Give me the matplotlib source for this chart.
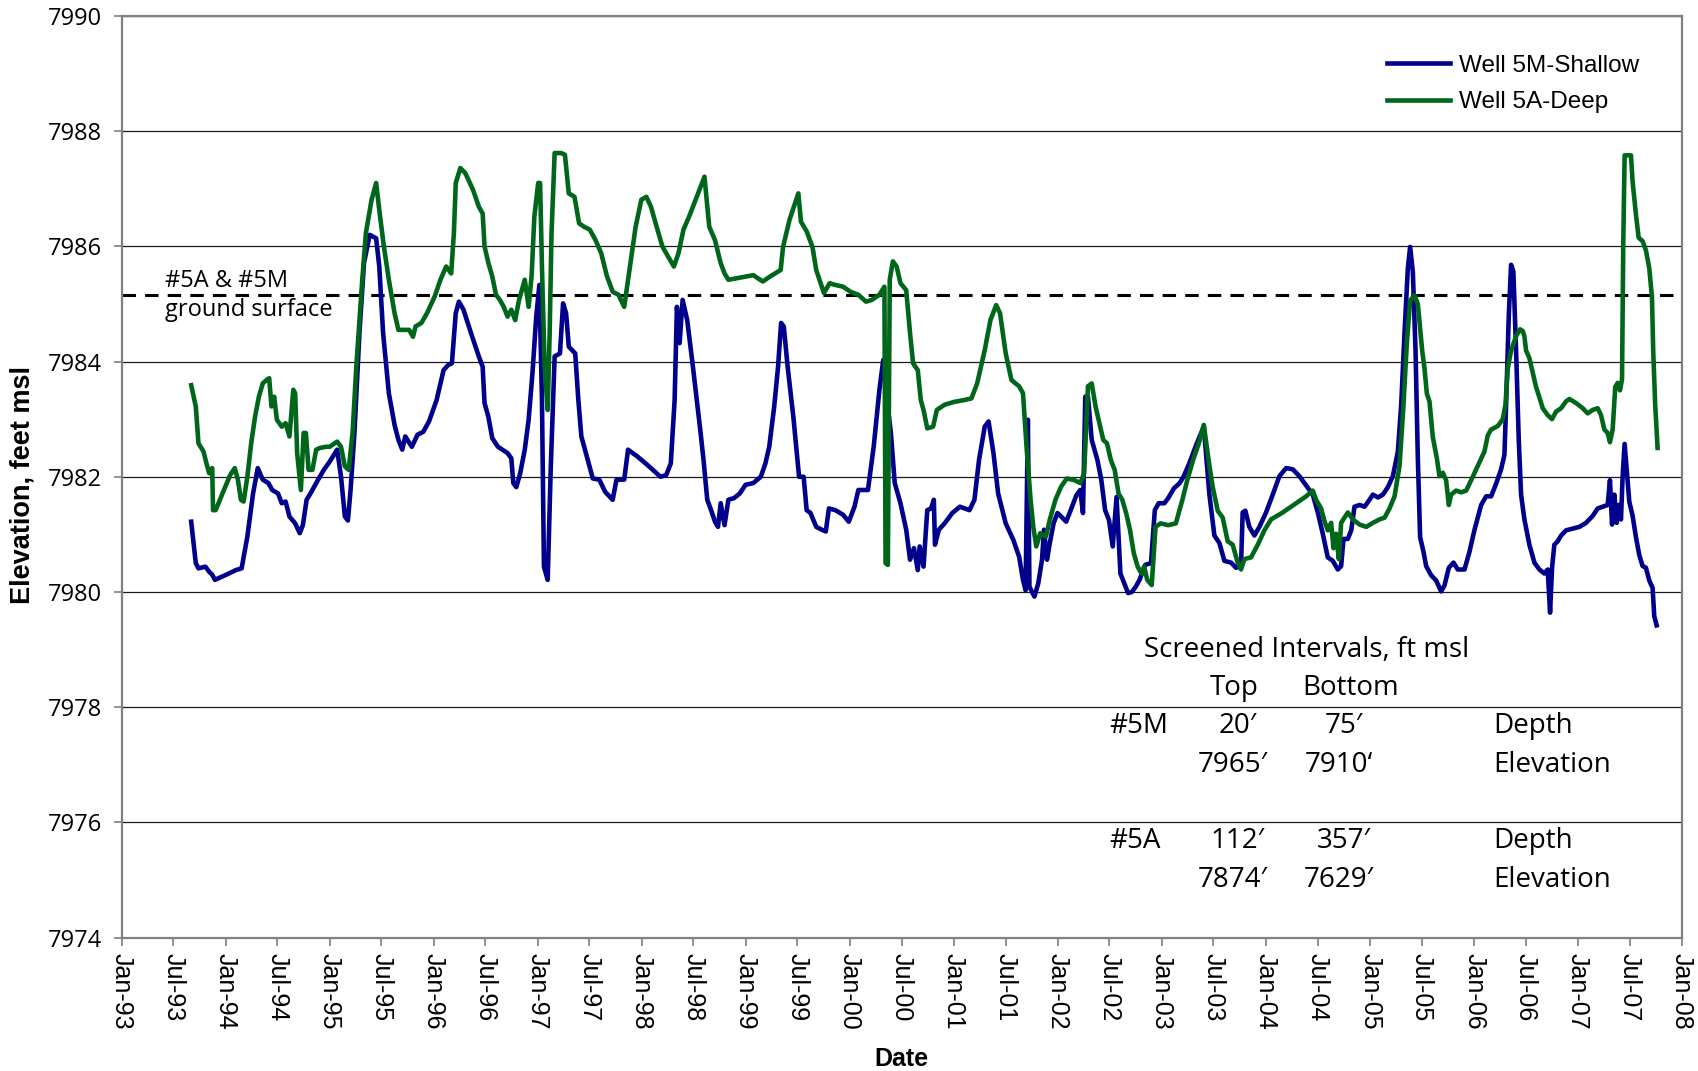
"""
Water-level hydrograph for the shallow and deep monitoring wells.
"""

import matplotlib

matplotlib.use("Agg")
import matplotlib.dates as mdates
import matplotlib.pyplot as plt
import numpy as np

# (decimal year, elevation in ft msl)
shallow_readings = [
    (1993.669, 7981.22), (1993.713, 7980.50), (1993.739, 7980.41), (1993.805, 7980.44),
    (1993.842, 7980.35), (1993.871, 7980.30), (1993.897, 7980.21), (1994.007, 7980.30),
    (1994.099, 7980.38), (1994.154, 7980.41), (1994.209, 7980.96), (1994.264, 7981.71),
    (1994.309, 7982.15), (1994.357, 7981.95), (1994.412, 7981.89), (1994.448, 7981.77),
    (1994.504, 7981.71), (1994.540, 7981.54), (1994.577, 7981.57), (1994.614, 7981.31),
    (1994.669, 7981.19), (1994.713, 7981.02), (1994.743, 7981.16), (1994.779, 7981.60),
    (1994.816, 7981.71), (1994.853, 7981.83), (1994.890, 7981.95), (1994.945, 7982.12),
    (1995.000, 7982.26), (1995.073, 7982.47), (1995.110, 7982.00), (1995.147, 7981.31),
    (1995.176, 7981.24), (1995.202, 7981.77), (1995.239, 7982.76), (1995.287, 7984.49),
    (1995.331, 7985.71), (1995.386, 7986.20), (1995.448, 7986.14), (1995.478, 7985.65),
    (1995.515, 7984.49), (1995.570, 7983.45), (1995.625, 7982.90), (1995.662, 7982.64),
    (1995.699, 7982.47), (1995.728, 7982.70), (1995.791, 7982.52), (1995.846, 7982.73),
    (1995.901, 7982.78), (1995.956, 7982.96), (1996.029, 7983.33), (1996.096, 7983.85),
    (1996.140, 7983.94), (1996.176, 7983.97), (1996.213, 7984.84), (1996.243, 7985.04),
    (1996.287, 7984.90), (1996.360, 7984.49), (1996.434, 7984.09), (1996.471, 7983.91),
    (1996.489, 7983.28), (1996.526, 7983.04), (1996.563, 7982.67), (1996.618, 7982.52),
    (1996.710, 7982.41), (1996.746, 7982.32), (1996.765, 7981.89), (1996.794, 7981.82),
    (1996.831, 7982.06), (1996.875, 7982.47), (1996.912, 7982.99), (1996.949, 7983.80),
    (1996.985, 7984.78), (1997.015, 7985.33), (1997.040, 7983.33), (1997.059, 7980.44),
    (1997.095, 7980.21), (1997.125, 7982.18), (1997.162, 7984.09), (1997.213, 7984.14),
    (1997.243, 7985.01), (1997.272, 7984.84), (1997.298, 7984.26), (1997.360, 7984.14),
    (1997.390, 7983.33), (1997.419, 7982.70), (1997.463, 7982.41), (1997.529, 7981.97),
    (1997.592, 7981.95), (1997.647, 7981.74), (1997.720, 7981.60), (1997.757, 7981.95),
    (1997.831, 7981.95), (1997.868, 7982.47), (1997.959, 7982.35), (1998.051, 7982.21),
    (1998.180, 7982.00), (1998.235, 7982.03), (1998.279, 7982.23), (1998.316, 7983.33),
    (1998.338, 7984.95), (1998.364, 7984.32), (1998.393, 7985.07), (1998.437, 7984.72),
    (1998.492, 7983.91), (1998.566, 7982.76), (1998.594, 7982.29), (1998.630, 7981.60),
    (1998.667, 7981.42), (1998.704, 7981.22), (1998.733, 7981.13), (1998.759, 7981.54),
    (1998.796, 7981.16), (1998.833, 7981.60), (1998.888, 7981.63), (1998.943, 7981.71),
    (1998.998, 7981.86), (1999.072, 7981.89), (1999.145, 7982.00), (1999.189, 7982.23),
    (1999.226, 7982.52), (1999.274, 7983.22), (1999.311, 7983.91), (1999.340, 7984.67),
    (1999.366, 7984.61), (1999.403, 7983.91), (1999.458, 7983.04), (1999.513, 7982.00),
    (1999.557, 7982.00), (1999.586, 7981.42), (1999.623, 7981.37), (1999.678, 7981.13),
    (1999.733, 7981.08), (1999.770, 7981.05), (1999.800, 7981.45), (1999.862, 7981.42),
    (1999.936, 7981.34), (1999.991, 7981.22), (2000.046, 7981.48), (2000.083, 7981.77),
    (2000.175, 7981.77), (2000.230, 7982.52), (2000.285, 7983.51), (2000.322, 7984.03),
    (2000.358, 7983.33), (2000.395, 7982.76), (2000.432, 7981.89), (2000.487, 7981.54),
    (2000.542, 7981.08), (2000.579, 7980.56), (2000.616, 7980.76), (2000.653, 7980.38),
    (2000.671, 7980.79), (2000.708, 7980.44), (2000.744, 7981.42), (2000.781, 7981.45),
    (2000.807, 7981.60), (2000.818, 7980.82), (2000.855, 7981.08), (2000.910, 7981.19),
    (2000.984, 7981.37), (2001.057, 7981.48), (2001.149, 7981.42), (2001.197, 7981.60),
    (2001.241, 7982.29), (2001.296, 7982.87), (2001.333, 7982.96), (2001.380, 7982.41),
    (2001.425, 7981.71), (2001.498, 7981.19), (2001.572, 7980.90), (2001.627, 7980.61),
    (2001.664, 7980.21), (2001.689, 7980.03), (2001.711, 7982.99), (2001.726, 7980.09),
    (2001.774, 7979.92), (2001.811, 7980.15), (2001.847, 7980.56), (2001.866, 7981.08),
    (2001.895, 7980.56), (2001.921, 7980.84), (2001.958, 7981.19), (2001.995, 7981.37),
    (2002.031, 7981.31), (2002.079, 7981.22), (2002.123, 7981.42), (2002.178, 7981.68),
    (2002.215, 7981.77), (2002.241, 7981.37), (2002.263, 7983.39), (2002.289, 7983.39),
    (2002.325, 7982.64), (2002.380, 7982.29), (2002.417, 7981.95), (2002.454, 7981.42),
    (2002.491, 7981.25), (2002.527, 7980.79), (2002.564, 7981.65), (2002.583, 7980.96),
    (2002.601, 7980.32), (2002.638, 7980.15), (2002.675, 7979.98), (2002.711, 7980.00),
    (2002.748, 7980.09), (2002.785, 7980.21), (2002.840, 7980.47), (2002.895, 7980.50),
    (2002.932, 7981.42), (2002.969, 7981.54), (2003.024, 7981.54), (2003.061, 7981.63),
    (2003.116, 7981.80), (2003.171, 7981.89), (2003.208, 7982.00), (2003.263, 7982.23),
    (2003.336, 7982.58), (2003.403, 7982.87), (2003.457, 7981.69), (2003.505, 7980.98),
    (2003.553, 7980.85), (2003.601, 7980.54), (2003.665, 7980.51), (2003.713, 7980.42),
    (2003.761, 7980.45), (2003.777, 7981.38), (2003.803, 7981.41), (2003.841, 7981.13),
    (2003.890, 7980.98), (2003.938, 7981.13), (2004.002, 7981.38), (2004.066, 7981.69),
    (2004.130, 7982.01), (2004.194, 7982.15), (2004.258, 7982.13), (2004.322, 7982.01),
    (2004.386, 7981.85), (2004.450, 7981.69), (2004.498, 7981.38), (2004.546, 7981.01),
    (2004.594, 7980.60), (2004.642, 7980.54), (2004.690, 7980.39), (2004.722, 7980.45),
    (2004.745, 7980.92), (2004.786, 7980.92), (2004.819, 7981.07), (2004.850, 7981.48),
    (2004.899, 7981.51), (2004.947, 7981.48), (2004.994, 7981.60), (2005.027, 7981.69),
    (2005.075, 7981.64), (2005.123, 7981.69), (2005.171, 7981.82), (2005.219, 7982.01),
    (2005.267, 7982.44), (2005.299, 7983.25), (2005.331, 7984.50), (2005.363, 7985.62),
    (2005.385, 7985.99), (2005.411, 7985.56), (2005.437, 7984.19), (2005.459, 7982.32),
    (2005.481, 7980.95), (2005.513, 7980.70), (2005.539, 7980.45), (2005.587, 7980.29),
    (2005.635, 7980.20), (2005.683, 7980.01), (2005.715, 7980.11), (2005.757, 7980.42),
    (2005.802, 7980.51), (2005.843, 7980.39), (2005.908, 7980.39), (2005.956, 7980.70),
    (2006.003, 7981.07), (2006.068, 7981.51), (2006.116, 7981.66), (2006.164, 7981.66),
    (2006.212, 7981.88), (2006.260, 7982.13), (2006.292, 7982.38), (2006.308, 7983.25),
    (2006.334, 7984.81), (2006.356, 7985.68), (2006.378, 7985.56), (2006.404, 7984.19),
    (2006.430, 7982.63), (2006.452, 7981.69), (2006.484, 7981.26), (2006.532, 7980.82),
    (2006.580, 7980.51), (2006.628, 7980.39), (2006.676, 7980.32), (2006.708, 7980.39),
    (2006.731, 7979.64), (2006.750, 7980.42), (2006.772, 7980.82), (2006.804, 7980.88),
    (2006.837, 7980.98), (2006.885, 7981.07), (2006.949, 7981.10), (2007.013, 7981.13),
    (2007.077, 7981.20), (2007.141, 7981.32), (2007.189, 7981.45), (2007.237, 7981.48),
    (2007.285, 7981.51), (2007.307, 7981.94), (2007.327, 7981.17), (2007.349, 7981.69),
    (2007.372, 7981.20), (2007.391, 7981.51), (2007.413, 7981.26), (2007.429, 7982.01),
    (2007.448, 7982.57), (2007.468, 7982.13), (2007.493, 7981.57), (2007.525, 7981.32),
    (2007.557, 7980.95), (2007.589, 7980.64), (2007.621, 7980.45), (2007.653, 7980.42),
    (2007.685, 7980.20), (2007.717, 7980.07), (2007.733, 7979.58), (2007.756, 7979.42),
]

deep_readings = [
    (1993.669, 7983.59), (1993.713, 7983.22), (1993.739, 7982.58), (1993.787, 7982.44),
    (1993.816, 7982.23), (1993.842, 7982.06), (1993.871, 7982.15), (1993.879, 7981.42),
    (1993.904, 7981.42), (1993.970, 7981.71), (1994.044, 7982.03), (1994.088, 7982.15),
    (1994.118, 7981.95), (1994.147, 7981.60), (1994.173, 7981.57), (1994.209, 7982.00),
    (1994.246, 7982.58), (1994.283, 7983.04), (1994.320, 7983.39), (1994.357, 7983.62),
    (1994.393, 7983.68), (1994.419, 7983.71), (1994.441, 7983.22), (1994.467, 7983.39),
    (1994.493, 7982.99), (1994.540, 7982.87), (1994.577, 7982.93), (1994.614, 7982.70),
    (1994.651, 7983.51), (1994.669, 7983.45), (1994.688, 7982.41), (1994.724, 7981.77),
    (1994.750, 7982.76), (1994.772, 7982.76), (1994.798, 7982.12), (1994.835, 7982.12),
    (1994.871, 7982.47), (1994.908, 7982.50), (1994.963, 7982.52), (1995.000, 7982.52),
    (1995.073, 7982.61), (1995.110, 7982.52), (1995.147, 7982.18), (1995.184, 7982.12),
    (1995.221, 7982.76), (1995.257, 7983.91), (1995.312, 7985.36), (1995.349, 7986.23),
    (1995.404, 7986.81), (1995.448, 7987.10), (1995.478, 7986.63), (1995.522, 7986.00),
    (1995.570, 7985.42), (1995.625, 7984.84), (1995.662, 7984.55), (1995.717, 7984.55),
    (1995.765, 7984.55), (1995.802, 7984.43), (1995.827, 7984.61), (1995.883, 7984.67),
    (1995.937, 7984.84), (1996.011, 7985.13), (1996.066, 7985.42), (1996.121, 7985.65),
    (1996.169, 7985.53), (1996.195, 7986.23), (1996.213, 7987.10), (1996.257, 7987.36),
    (1996.305, 7987.27), (1996.379, 7986.98), (1996.434, 7986.69), (1996.471, 7986.57),
    (1996.489, 7986.00), (1996.526, 7985.71), (1996.563, 7985.48), (1996.599, 7985.16),
    (1996.636, 7985.07), (1996.673, 7984.95), (1996.710, 7984.78), (1996.746, 7984.90),
    (1996.783, 7984.72), (1996.820, 7985.07), (1996.875, 7985.42), (1996.912, 7984.95),
    (1996.941, 7985.50), (1996.967, 7986.52), (1997.004, 7987.10), (1997.022, 7987.10),
    (1997.040, 7985.65), (1997.066, 7983.91), (1997.095, 7983.16), (1997.114, 7984.49),
    (1997.132, 7986.23), (1997.162, 7987.62), (1997.224, 7987.62), (1997.261, 7987.59),
    (1997.298, 7986.92), (1997.353, 7986.86), (1997.397, 7986.40), (1997.445, 7986.34),
    (1997.500, 7986.29), (1997.555, 7986.11), (1997.610, 7985.88), (1997.665, 7985.48),
    (1997.721, 7985.21), (1997.776, 7985.16), (1997.831, 7984.95), (1997.886, 7985.65),
    (1997.941, 7986.34), (1997.996, 7986.81), (1998.044, 7986.86), (1998.088, 7986.69),
    (1998.143, 7986.34), (1998.198, 7986.00), (1998.254, 7985.82), (1998.309, 7985.65),
    (1998.353, 7985.88), (1998.401, 7986.29), (1998.456, 7986.52), (1998.529, 7986.86),
    (1998.603, 7987.21), (1998.649, 7986.34), (1998.704, 7986.11), (1998.759, 7985.71),
    (1998.796, 7985.53), (1998.833, 7985.42), (1998.925, 7985.45), (1999.072, 7985.50),
    (1999.164, 7985.39), (1999.237, 7985.48), (1999.336, 7985.59), (1999.359, 7985.99),
    (1999.421, 7986.46), (1999.506, 7986.92), (1999.531, 7986.43), (1999.586, 7986.26),
    (1999.642, 7985.99), (1999.678, 7985.59), (1999.715, 7985.39), (1999.752, 7985.19),
    (1999.807, 7985.36), (1999.862, 7985.33), (1999.936, 7985.30), (2000.009, 7985.21),
    (2000.083, 7985.16), (2000.156, 7985.04), (2000.211, 7985.07), (2000.285, 7985.16),
    (2000.333, 7985.30), (2000.344, 7980.50), (2000.366, 7980.47), (2000.384, 7985.42),
    (2000.414, 7985.74), (2000.450, 7985.65), (2000.487, 7985.36), (2000.542, 7985.24),
    (2000.579, 7984.49), (2000.608, 7983.97), (2000.653, 7983.85), (2000.682, 7983.33),
    (2000.708, 7983.16), (2000.744, 7982.84), (2000.800, 7982.87), (2000.836, 7983.16),
    (2000.910, 7983.25), (2001.002, 7983.30), (2001.094, 7983.33), (2001.168, 7983.36),
    (2001.223, 7983.62), (2001.296, 7984.20), (2001.351, 7984.72), (2001.406, 7984.98),
    (2001.443, 7984.84), (2001.498, 7984.14), (2001.553, 7983.68), (2001.627, 7983.57),
    (2001.664, 7983.45), (2001.700, 7982.47), (2001.737, 7981.60), (2001.763, 7981.13),
    (2001.792, 7980.79), (2001.829, 7981.02), (2001.884, 7980.96), (2001.921, 7981.25),
    (2001.976, 7981.60), (2002.031, 7981.83), (2002.086, 7981.97), (2002.160, 7981.94),
    (2002.215, 7981.89), (2002.252, 7982.06), (2002.289, 7983.57), (2002.325, 7983.62),
    (2002.362, 7983.22), (2002.399, 7982.93), (2002.436, 7982.64), (2002.472, 7982.58),
    (2002.509, 7982.29), (2002.546, 7982.12), (2002.583, 7981.71), (2002.619, 7981.60),
    (2002.656, 7981.37), (2002.693, 7981.08), (2002.730, 7980.67), (2002.767, 7980.44),
    (2002.803, 7980.32), (2002.829, 7980.44), (2002.859, 7980.21), (2002.902, 7980.12),
    (2002.939, 7981.13), (2002.987, 7981.19), (2003.061, 7981.16), (2003.134, 7981.19),
    (2003.197, 7981.60), (2003.244, 7981.94), (2003.300, 7982.29), (2003.355, 7982.58),
    (2003.403, 7982.90), (2003.457, 7982.19), (2003.489, 7981.82), (2003.537, 7981.41),
    (2003.585, 7981.29), (2003.633, 7980.88), (2003.681, 7980.82), (2003.729, 7980.51),
    (2003.761, 7980.39), (2003.793, 7980.57), (2003.857, 7980.60), (2003.922, 7980.82),
    (2003.986, 7981.07), (2004.050, 7981.26), (2004.162, 7981.38), (2004.290, 7981.54),
    (2004.386, 7981.66), (2004.450, 7981.76), (2004.482, 7981.60), (2004.530, 7981.45),
    (2004.562, 7981.23), (2004.594, 7981.07), (2004.626, 7981.20), (2004.649, 7980.76),
    (2004.674, 7981.01), (2004.700, 7980.57), (2004.722, 7981.20), (2004.754, 7981.29),
    (2004.786, 7981.38), (2004.834, 7981.26), (2004.899, 7981.17), (2004.963, 7981.13),
    (2005.027, 7981.20), (2005.091, 7981.26), (2005.139, 7981.29), (2005.187, 7981.45),
    (2005.235, 7981.66), (2005.283, 7982.19), (2005.321, 7983.25), (2005.353, 7984.31),
    (2005.385, 7985.06), (2005.427, 7985.15), (2005.459, 7985.00), (2005.501, 7984.19),
    (2005.523, 7983.88), (2005.546, 7983.44), (2005.571, 7983.31), (2005.603, 7982.69),
    (2005.642, 7982.32), (2005.667, 7982.01), (2005.699, 7982.07), (2005.731, 7981.94),
    (2005.757, 7981.51), (2005.779, 7981.69), (2005.827, 7981.76), (2005.875, 7981.73),
    (2005.924, 7981.76), (2005.972, 7981.94), (2006.036, 7982.19), (2006.100, 7982.44),
    (2006.132, 7982.72), (2006.164, 7982.82), (2006.228, 7982.88), (2006.276, 7983.00),
    (2006.302, 7983.25), (2006.324, 7983.88), (2006.356, 7984.19), (2006.404, 7984.44),
    (2006.442, 7984.56), (2006.468, 7984.53), (2006.484, 7984.44), (2006.500, 7984.19),
    (2006.532, 7984.06), (2006.564, 7983.81), (2006.596, 7983.56), (2006.628, 7983.38),
    (2006.660, 7983.19), (2006.708, 7983.07), (2006.750, 7983.00), (2006.788, 7983.13),
    (2006.837, 7983.19), (2006.885, 7983.31), (2006.917, 7983.35), (2006.981, 7983.28),
    (2007.045, 7983.19), (2007.093, 7983.10), (2007.141, 7983.16), (2007.189, 7983.19),
    (2007.221, 7983.07), (2007.253, 7982.82), (2007.285, 7982.76), (2007.307, 7982.60),
    (2007.333, 7982.82), (2007.358, 7983.56), (2007.381, 7983.63), (2007.403, 7983.50),
    (2007.423, 7983.69), (2007.435, 7986.06), (2007.448, 7987.58), (2007.509, 7987.58),
    (2007.525, 7987.12), (2007.557, 7986.55), (2007.583, 7986.15), (2007.621, 7986.09),
    (2007.653, 7985.93), (2007.685, 7985.62), (2007.711, 7985.12), (2007.723, 7984.19),
    (2007.742, 7983.25), (2007.765, 7982.50),
]

ground_surface = 7985.15

# screened interval table
screen_wells = ["#5M", "#5A"]
screen_top_depth = ["20\u2032", "112\u2032"]
screen_bottom_depth = ["75\u2032", "357\u2032"]
screen_top_elev = ["7965\u2032", "7874\u2032"]
screen_bottom_elev = ["7910\u2018", "7629\u2032"]

y_ticks = np.arange(7974, 7991, 2)


def to_dates(years):
    """Convert decimal years to datetime64 values."""
    years = np.asarray(years, dtype=float)
    whole = np.floor(years).astype(int)
    start = np.array([np.datetime64(f"{y}-01-01", "s") for y in whole])
    end = np.array([np.datetime64(f"{y + 1}-01-01", "s") for y in whole])
    span = (end - start).astype(np.int64)
    offset = (span * (years - whole)).astype(np.int64).astype("timedelta64[s]")
    return start + offset


plt.rcParams["font.family"] = ["Liberation Sans", "DejaVu Sans"]
soft_font = ["Open Sans", "DejaVu Sans"]

fig = plt.figure(figsize=(16.99, 10.71), dpi=100)
ax = fig.add_axes([0.0716, 0.1246, 0.9184, 0.8605])

shallow = np.array(shallow_readings)
deep = np.array(deep_readings)
ax.plot(to_dates(shallow[:, 0]), shallow[:, 1], color="#00008c", lw=3.3,
        label="Well 5M-Shallow")
ax.plot(to_dates(deep[:, 0]), deep[:, 1], color="#00661a", lw=3.3,
        label="Well 5A-Deep")

# ground surface reference
ax.axhline(ground_surface, color="black", lw=2.2, dashes=(4.4, 3.0), zorder=1)
ax.text(to_dates([1993.416])[0], ground_surface, "#5A & #5M\nground surface",
        fontsize=17, family=soft_font, va="center", ha="left", linespacing=1.25)

# axes limits and ticks
ax.set_xlim(np.datetime64("1993-01-01"), np.datetime64("2008-01-01"))
ax.set_ylim(7974, 7990)
ax.set_yticks(y_ticks)
ax.yaxis.set_major_formatter(plt.FuncFormatter(lambda v, _: f"{v:.0f}"))
ax.xaxis.set_major_locator(mdates.MonthLocator(bymonth=[1, 7]))
ax.xaxis.set_major_formatter(mdates.DateFormatter("%b-%y"))
ax.tick_params(axis="x", labelsize=18, rotation=-90, length=6, width=1.2,
               color="#808080", pad=5)
ax.tick_params(axis="y", labelsize=17, length=6, width=1.2, color="#808080", pad=8)
for lbl in ax.get_yticklabels():
    lbl.set_family(soft_font)

ax.grid(axis="y", color="#1a1a1a", lw=0.9)
ax.set_axisbelow(True)
for spine in ax.spines.values():
    spine.set_color("#808080")
    spine.set_linewidth(1.6)

ax.set_xlabel("Date", fontsize=18, fontweight="bold")
ax.xaxis.set_label_coords(0.5, -0.119)
ax.set_ylabel("Elevation, feet msl", fontsize=19.5, fontweight="bold")
ax.yaxis.set_label_coords(-0.055, 0.491)

ax.legend(loc="upper left", bbox_to_anchor=(0.811, 0.958), frameon=False,
          fontsize=17.5, handlelength=2.6, handletextpad=0.35, labelspacing=0.6,
          borderaxespad=0, borderpad=0)

# screened intervals table
table_kw = dict(transform=ax.transAxes, fontsize=20, family=soft_font, va="baseline")
ax.text(0.6552, 0.3048, "Screened Intervals, ft msl", ha="left", **table_kw)
ax.text(0.7133, 0.2632, "Top", ha="center", **table_kw)
ax.text(0.7875, 0.2632, "Bottom", ha="center", **table_kw)
row_depth = [0.2217, 0.0969]
row_elev = [0.1800, 0.0552]
for i, well in enumerate(screen_wells):
    ax.text(0.6330, row_depth[i], well, ha="left", **table_kw)
    ax.text(0.7150, row_depth[i], screen_top_depth[i], ha="center", **table_kw)
    ax.text(0.7834, row_depth[i], screen_bottom_depth[i], ha="center", **table_kw)
    ax.text(0.8789, row_depth[i], "Depth", ha="left", **table_kw)
    ax.text(0.7120, row_elev[i], screen_top_elev[i], ha="center", **table_kw)
    ax.text(0.7800, row_elev[i], screen_bottom_elev[i], ha="center", **table_kw)
    ax.text(0.8789, row_elev[i], "Elevation", ha="left", **table_kw)

fig.savefig("out.png", dpi=100)
